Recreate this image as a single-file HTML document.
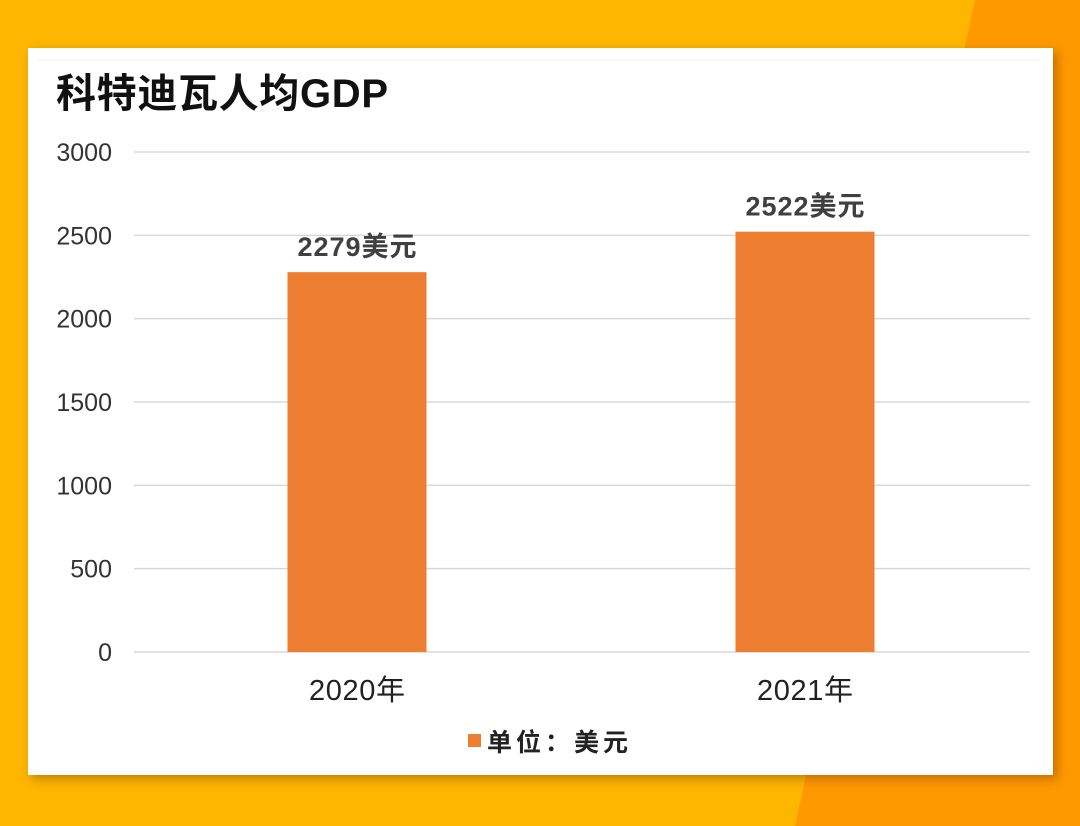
<!DOCTYPE html>
<html><head><meta charset="utf-8"><style>
html,body{margin:0;padding:0;}
body{width:1080px;height:826px;overflow:hidden;position:relative;background:#FFB600;font-family:"Liberation Sans","Noto Sans CJK SC",sans-serif;}
#bg2{position:absolute;left:0;top:0;width:1080px;height:826px;}
#card{position:absolute;left:28px;top:48px;width:1025px;height:727px;background:#fff;box-shadow:4px 4px 10px rgba(120,60,0,0.45);}
svg text{font-family:"Liberation Sans","Noto Sans CJK SC",sans-serif;}
</style></head><body>
<svg id="bg2" width="1080" height="826"><polygon points="975,0 1080,0 1080,826 795,826" fill="#FF9900"/></svg>
<div id="card"></div>
<svg id="chart" width="1080" height="826" style="position:absolute;left:0;top:0">
<line x1="38" y1="60" x2="1040" y2="60" stroke="#eef0f3" stroke-width="1"/>
<text x="56" y="107" font-size="40" font-weight="bold" fill="#111" textLength="332">科特迪瓦人均GDP</text>
<g id="grid"></g><g id="bars"></g>
<rect x="468" y="734" width="13" height="13" fill="#ED7D31"/>
<text x="487" y="751" font-size="25" font-weight="bold" fill="#222" textLength="141">单位：美元</text>
</svg>
<script>
const categories=["2020年","2021年"];
const values=[2279,2522];
const valueLabels=["2279美元","2522美元"];
const ticks=[0,500,1000,1500,2000,2500,3000];
const ns="http://www.w3.org/2000/svg";
const x0=134,x1=1030,yBase=652,yTop=152,maxV=3000;
const y=v=>yBase-(v/maxV)*(yBase-yTop);
const band=(x1-x0)/categories.length;
const xc=i=>x0+band*(i+0.5)-1;
const grid=document.getElementById('grid'),bars=document.getElementById('bars');
function mk(tag,attrs,parent){const e=document.createElementNS(ns,tag);for(const k in attrs)e.setAttribute(k,attrs[k]);parent.appendChild(e);return e;}
ticks.forEach(t=>{
  const l=mk('line',{x1:x0,x2:x1,y1:y(t),y2:y(t),stroke:'#d9d9d9','stroke-width':1.5},grid);
  
  
  const tx=mk('text',{x:112,y:y(t)+9,'text-anchor':'end','font-size':25,fill:'#333'},grid);
  tx.textContent=t;
  
  
});
const bw=139;
values.forEach((v,i)=>{
  const r=mk('rect',{x:xc(i)-bw/2,y:y(v),width:bw,height:yBase-y(v),fill:'#ED7D31'},bars);
  
  
  const lb=mk('text',{x:xc(i),y:y(v)-16,'text-anchor':'middle','font-size':27,'font-weight':'bold',fill:'#404040',textLength:119},bars);
  lb.textContent=valueLabels[i];
  
  
  const cl=mk('text',{x:xc(i),y:700,'text-anchor':'middle','font-size':29,fill:'#222',textLength:96},bars);
  cl.textContent=categories[i];
  
  
});
</script>
</body></html>
